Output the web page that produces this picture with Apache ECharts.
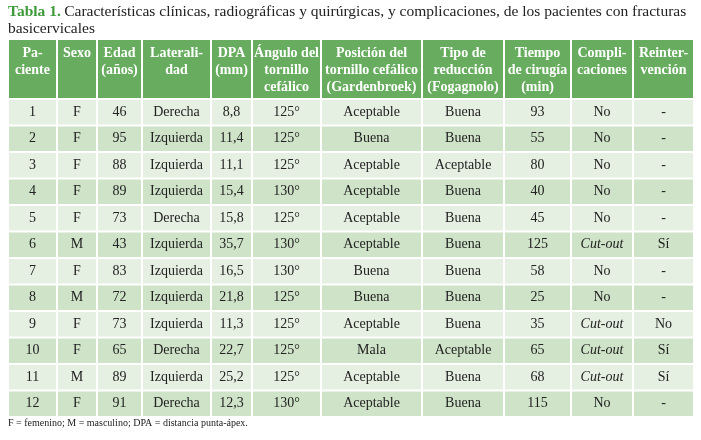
<!DOCTYPE html>
<html>
<head>
<meta charset="utf-8">
<script src="https://cdn.jsdelivr.net/npm/echarts@6.0.0/dist/echarts.min.js"></script>
<style>
  html, body { margin: 0; padding: 0; background: #fff; }
  #main { width: 701px; height: 440px; }
</style>
</head>
<body>
<div id="main"></div>
<script>
const headers = [
  ['Pa-', 'ciente'], ['Sexo'], ['Edad', '(años)'], ['Laterali-', 'dad'], ['DPA', '(mm)'],
  ['Ángulo del', 'tornillo', 'cefálico'], ['Posición del', 'tornillo cefálico', '(Gardenbroek)'],
  ['Tipo de', 'reducción', '(Fogagnolo)'], ['Tiempo', 'de cirugía', '(min)'],
  ['Compli-', 'caciones'], ['Reinter-', 'vención']
];
const paciente = ['1','2','3','4','5','6','7','8','9','10','11','12'];
const sexo = ['F','F','F','F','F','M','F','M','F','F','M','F'];
const edad = ['46','95','88','89','73','43','83','72','73','65','89','91'];
const lateralidad = ['Derecha','Izquierda','Izquierda','Izquierda','Derecha','Izquierda','Izquierda','Izquierda','Izquierda','Derecha','Izquierda','Derecha'];
const dpa = ['8,8','11,4','11,1','15,4','15,8','35,7','16,5','21,8','11,3','22,7','25,2','12,3'];
const angulo = ['125°','125°','125°','130°','125°','130°','130°','125°','125°','125°','125°','130°'];
const posicion = ['Aceptable','Buena','Aceptable','Aceptable','Aceptable','Aceptable','Buena','Buena','Aceptable','Mala','Aceptable','Aceptable'];
const reduccion = ['Buena','Buena','Aceptable','Buena','Buena','Buena','Buena','Buena','Buena','Aceptable','Buena','Buena'];
const tiempo = ['93','55','80','40','45','125','58','25','35','65','68','115'];
const complicaciones = ['No','No','No','No','No','Cut-out','No','No','Cut-out','Cut-out','Cut-out','No'];
const reintervencion = ['-','-','-','-','-','Sí','-','-','No','Sí','Sí','-'];
const columns = [paciente, sexo, edad, lateralidad, dpa, angulo, posicion, reduccion, tiempo, complicaciones, reintervencion];

const colEdges = [8, 57, 97, 142, 211, 252, 321, 422, 504, 571, 633, 694];
const headTop = 40, headBottom = 100, rowH = 26.5;
const font = '"Liberation Serif", "DejaVu Serif", serif';
const els = [];

els.push({ type: 'text', left: 8, top: 3, style: {
  rich: { g: { fill: '#3e9a3a', fontWeight: 'bold', fontSize: 15.5, fontFamily: font },
          n: { fill: '#222', fontSize: 15.5, fontFamily: font } },
  text: '{g|Tabla 1.} {n|Características clínicas, radiográficas y quirúrgicas, y complicaciones, de los pacientes con fracturas}\n{n|basicervicales}',
  lineHeight: 17 } });

for (let c = 0; c < headers.length; c++) {
  const x0 = colEdges[c] + 1, x1 = colEdges[c + 1] - 1;
  els.push({ type: 'rect', shape: { x: x0, y: headTop, width: x1 - x0, height: headBottom - headTop - 2 },
    style: { fill: '#68ad5f' } });
  const lines = headers[c];
  els.push({ type: 'text', x: (x0 + x1) / 2, y: headTop + 5, style: {
    text: lines.join('\n'), fill: '#fff', fontWeight: 'bold', fontSize: 14, lineHeight: 17,
    fontFamily: font, align: 'center', verticalAlign: 'top' } });
  for (let r = 0; r < paciente.length; r++) {
    const y0 = headBottom + r * rowH;
    els.push({ type: 'rect', shape: { x: x0, y: y0, width: x1 - x0, height: rowH - 2 },
      style: { fill: r % 2 === 0 ? '#e6f0e2' : '#cfe3c8' } });
    const v = columns[c][r];
    els.push({ type: 'text', x: (x0 + x1) / 2, y: y0 + (rowH - 2) / 2, style: {
      text: v, fill: '#222', fontSize: 14, fontFamily: font,
      fontStyle: v === 'Cut-out' ? 'italic' : 'normal', align: 'center', verticalAlign: 'middle' } });
  }
}

els.push({ type: 'text', left: 8, top: 418, style: {
  text: 'F = femenino; M = masculino; DPA = distancia punta-ápex.', fill: '#222', fontSize: 10, fontFamily: font } });

const chart = echarts.init(document.getElementById('main'));
chart.setOption({ animation: false, graphic: { elements: els } });
</script>
</body>
</html>
